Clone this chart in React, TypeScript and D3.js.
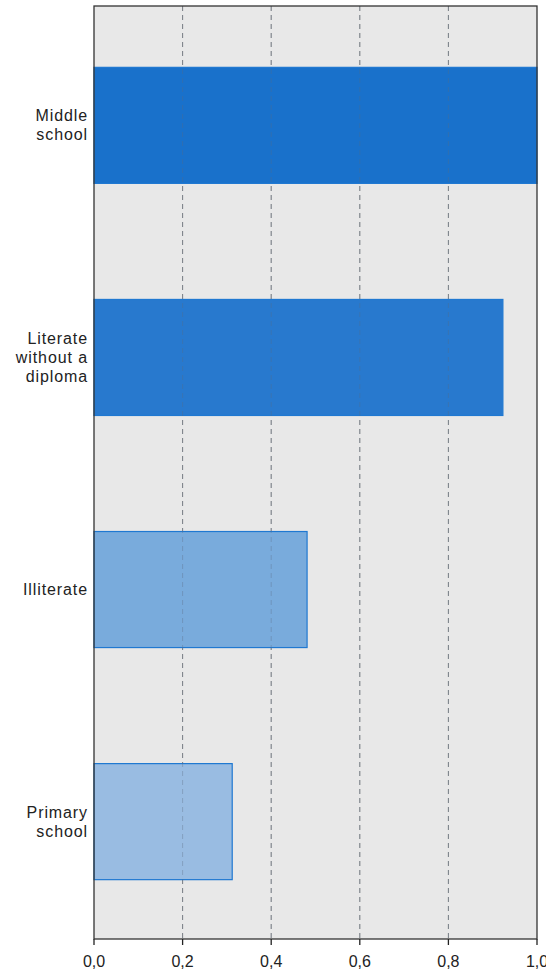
import React from 'react';
import * as d3 from 'd3';

const categories = ['Middle school', 'Literate without a diploma', 'Illiterate', 'Primary school'];
const labelLines = [['Middle', 'school'], ['Literate', 'without a', 'diploma'], ['Illiterate'], ['Primary', 'school']];
const values = [1.0, 0.923, 0.481, 0.312];
const fills = ['#1971CB', '#2879CE', '#79ABDC', '#99BCE2'];
const xTicks = [0, 0.2, 0.4, 0.6, 0.8, 1.0];

const W = 546;
const H = 974;
const margin = { top: 6, right: 9, bottom: 35, left: 94 };

const App: React.FC = () => {
  const x = d3.scaleLinear().domain([0, 1]).range([margin.left, W - margin.right]);
  const y = d3.scaleBand().domain(categories).range([margin.top + 1, H - margin.bottom + 1]).paddingInner(0.5).paddingOuter(0.26);
  const fmt = (v: number) => v.toFixed(1).replace('.', ',');
  const x0 = x(0);
  const x1 = x(1);
  const yTop = margin.top;
  const yBot = H - margin.bottom;

  return (
    <svg width={W} height={H} style={{ position: 'absolute', left: 0, top: 0 }} fontFamily="'Liberation Sans', Arial, sans-serif">
      <rect x={x0} y={yTop} width={x1 - x0} height={yBot - yTop} fill="#E8E8E8" />
      {xTicks.slice(1, -1).map((t) => (
        <line key={t} x1={x(t)} x2={x(t)} y1={yTop} y2={yBot} stroke="#8a8a8a" strokeWidth={1} strokeDasharray="5,4" />
      ))}
      {categories.map((c, i) => (
        <rect
          key={c}
          x={x0}
          y={y(c)!}
          width={x(values[i]) - x0}
          height={y.bandwidth()}
          fill={fills[i]}
          stroke="#1F78D1"
          strokeWidth={1.2}
        />
      ))}
      {xTicks.slice(1, -1).map((t) => (
        <line key={'o' + t} x1={x(t)} x2={x(t)} y1={yTop} y2={yBot} stroke="#5a6a80" strokeOpacity={0.35} strokeWidth={1} strokeDasharray="5,4" />
      ))}
      <rect x={x0} y={yTop} width={x1 - x0} height={yBot - yTop} fill="none" stroke="#333" strokeWidth={1.3} />
      {xTicks.map((t) => (
        <g key={'t' + t}>
          <line x1={x(t)} x2={x(t)} y1={yBot} y2={yBot + 6} stroke="#222" strokeWidth={1.3} />
          <text x={x(t)} y={yBot + 28} textAnchor="middle" fontSize={16} fill="#222">{fmt(t)}</text>
        </g>
      ))}
      {categories.map((c, i) => {
        const lines = labelLines[i];
        const cy = y(c)! + y.bandwidth() / 2;
        const lh = 19;
        const start = cy - ((lines.length - 1) * lh) / 2;
        return (
          <text key={'l' + c} textAnchor="end" fontSize={16} letterSpacing={0.9} fill="#222">
            {lines.map((ln, j) => (
              <tspan key={j} x={88} y={start + j * lh} dy="0.35em">{ln}</tspan>
            ))}
          </text>
        );
      })}
    </svg>
  );
};

export default App;
